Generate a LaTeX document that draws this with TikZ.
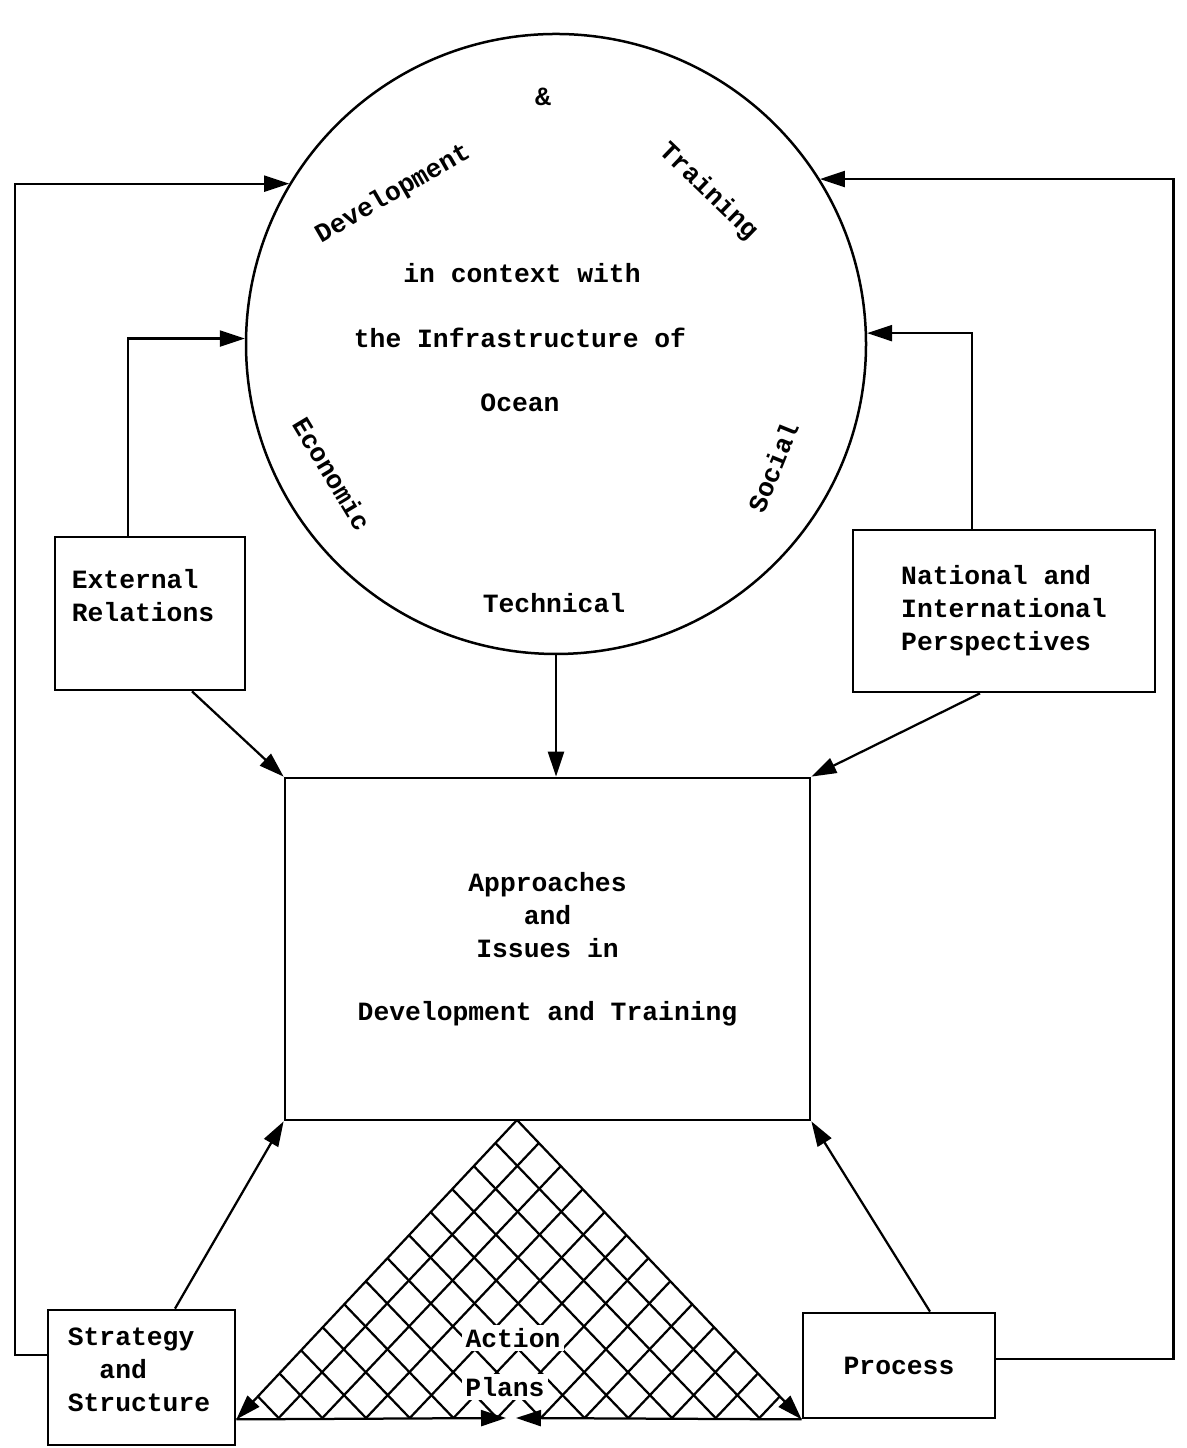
\documentclass[tikz,border=0pt]{standalone}
\usepackage{fontspec}
\setmonofont{Liberation Mono}
\usetikzlibrary{arrows.meta}

\begin{document}
\begin{tikzpicture}[
    box/.style={draw, line width=0.055cm, inner sep=0pt},
    txt/.style={font=\ttfamily\bfseries\fontsize{15pt}{18.8pt}\selectfont, inner sep=1pt},
    link/.style={line width=0.045cm, -{Triangle[length=0.5cm,width=0.32cm]}},
    hatch/.style={line width=0.045cm}
  ]
                \useasboundingbox (0,0) rectangle (23.72,28.96);

                % Drawing circle of the ocean infrastructure
                \node [draw, circle, line width=0.05cm, minimum size=12.4cm, inner sep=0pt] (ocean) at (11.12,22.08) {};%
                \node [txt] (amp) at (10.86,27.02) {\&};%
                \node [txt, rotate=30] (dev) at (7.86,25.08) {Development};%
                \node [txt, rotate=-44] (train) at (14.16,25.12) {Training};%
                \node [txt] (ctx) at (10.44,23.50) {in context with};%
                \node [txt] (infra) at (10.40,22.20) {the Infrastructure of};%
                \node [txt] (oc) at (10.40,20.90) {Ocean};%
                \node [txt, rotate=-59] (econ) at (6.64,19.48) {Economic};%
                \node [txt, rotate=68] (soc) at (15.46,19.62) {Social};%
                \node [txt] (tech) at (11.08,16.90) {Technical};%

                % Drawing box of external relations
                \node [box, minimum width=3.80cm, minimum height=3.06cm] (ext) at (3.00,16.69) {};%
                \node [txt, align=left] (extT) at (2.86,17.05) {External\\Relations};%

                % Drawing box of national and international perspectives
                \node [box, txt, align=left, minimum width=6.04cm, minimum height=3.24cm] (nat) at (20.08,16.74) {National and\\International\\Perspectives};%

                % Drawing box of approaches and issues
                \node [box, txt, align=center, minimum width=10.50cm, minimum height=6.84cm] (appr) at (10.95,9.98) {Approaches\\and\\Issues in\\[0.6cm]Development and Training};%

                % Drawing box of strategy and structure
                \node [box, minimum width=3.74cm, minimum height=2.70cm] (strat) at (2.83,1.41) {};%
                \node [txt, align=left] (stratT) at (2.78,1.56) {Strategy\\\hspace*{1.2em}and\\Structure};%

                % Drawing box of process
                \node [box, txt, minimum width=3.84cm, minimum height=2.10cm] (proc) at (17.98,1.65) {Process};%

                % Corners of the action plans triangle
                \coordinate (apex) at (10.34,6.56);%
                \coordinate (bl) at (strat.east |- proc.south);%
                \coordinate (br) at (proc.south west);%
                \coordinate (midl) at (10.12,0.60);%
                \coordinate (midr) at (10.32,0.60);%

                % Hatching the triangle
                \begin{scope}
                  \clip (apex) -- (bl) -- (br) -- cycle;
                  \foreach \k in {1,...,12} {
                    \draw [hatch] ({4.70+\k*0.874},0.60) -- ++(5.64,5.96);%
                    \draw [hatch] ({16.06-\k*0.874},0.60) -- ++(-5.72,5.96);%
                  }
                \end{scope}
                \node [txt, fill=white, inner sep=2pt] (act) at (10.26,2.20) {Action};%
                \node [txt, fill=white, inner sep=2pt] (plans) at (10.10,1.22) {Plans};%

                % Drawing sides of the triangle
                \draw [link] (apex) -- (bl);%
                \draw [link] (apex) -- (br);%
                \draw [link] (bl) -- (midl);%
                \draw [link] (br) -- (midr);%

                % Drawing loops into the circle
                \draw [link] ([yshift=0.45cm]strat.west) -- ++(-0.64,0) |- (ocean.149);%
                \draw [link] ([xshift=-0.44cm]ext.north) |- (ocean.179);%
                \draw [link] ([yshift=0.13cm]proc.east) -- ++(3.54,0) |- (ocean.32);%
                \draw [link] ([xshift=-0.64cm]nat.north) |- (ocean.2);%

                % Drawing arrows into the approaches box
                \draw [link] (ocean.south) -- (ocean.south |- appr.north);%
                \draw [link] ([xshift=0.84cm]ext.south) -- (appr.north west);%
                \draw [link] ([xshift=-0.48cm]nat.south) -- (appr.north east);%
                \draw [link] ([xshift=0.67cm]strat.north) -- (appr.south west);%
                \draw [link] ([xshift=0.62cm]proc.north) -- (appr.south east);%
\end{tikzpicture}
\end{document}
